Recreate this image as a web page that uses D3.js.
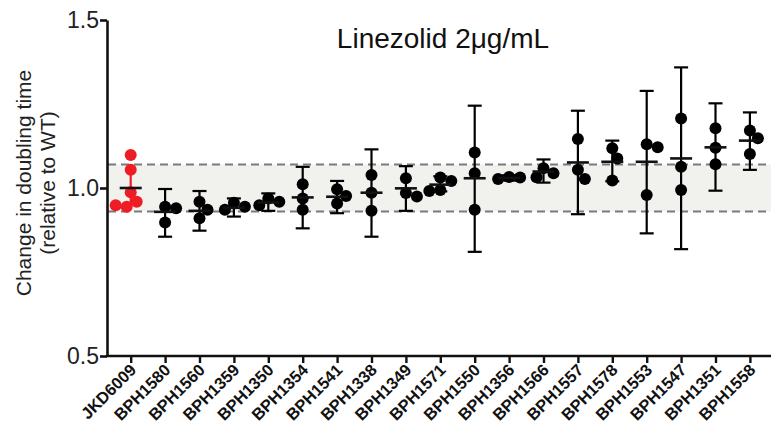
<!DOCTYPE html>
<html>
<head>
<meta charset="utf-8">
<script src="https://cdn.jsdelivr.net/npm/d3@7"></script>
<style>
  body { margin: 0; background: #fff; }
  text { font-family: "Liberation Sans", Arial, sans-serif; }
</style>
</head>
<body>
<div id="chart"></div>
<script>
// strains along the x axis
const categories = ['JKD6009', 'BPH1580', 'BPH1560', 'BPH1359', 'BPH1350', 'BPH1354',
  'BPH1541', 'BPH1338', 'BPH1349', 'BPH1571', 'BPH1550', 'BPH1356', 'BPH1566',
  'BPH1557', 'BPH1578', 'BPH1553', 'BPH1547', 'BPH1351', 'BPH1558'];

// individual replicates (relative doubling time)
const replicates = [
  [1.098, 1.054, 0.987, 0.959, 0.944, 0.949],
  [0.944, 0.940, 0.897],
  [0.959, 0.935, 0.910],
  [0.956, 0.944, 0.935],
  [0.969, 0.959, 0.949],
  [1.011, 0.969, 0.935],
  [0.996, 0.976, 0.954],
  [1.039, 0.986, 0.932],
  [1.029, 0.985, 0.975],
  [1.031, 1.021, 0.994, 0.991],
  [1.106, 1.044, 0.935],
  [1.033, 1.031, 1.027],
  [1.059, 1.044, 1.032],
  [1.146, 1.054, 1.027],
  [1.118, 1.088, 1.022],
  [1.130, 1.121, 0.979],
  [1.207, 1.063, 0.994],
  [1.178, 1.120, 1.071],
  [1.171, 1.148, 1.101]
];

// mean and 95% CI limits
const means = [1.000, 0.929, 0.932, 0.941, 0.957, 0.972, 0.974, 0.986, 0.999, 1.010,
  1.029, 1.030, 1.049, 1.076, 1.078, 1.078, 1.088, 1.121, 1.141];
const ciLow = [0.945, 0.855, 0.873, 0.915, 0.932, 0.880, 0.925, 0.855, 0.932, 0.990,
  0.810, 1.022, 1.016, 0.922, 1.020, 0.865, 0.818, 0.992, 1.054];
const ciHigh = [1.055, 0.997, 0.991, 0.969, 0.984, 1.063, 1.021, 1.115, 1.065, 1.035,
  1.245, 1.038, 1.085, 1.230, 1.141, 1.289, 1.359, 1.252, 1.225];

// wild-type range band
const bandLimits = [0.93, 1.07];
const yTicks = [0.5, 1.0, 1.5];

const width = 771;
const height = 423;
const axisX = 107;
const axisY = 356;
const r = 6;

const svg = d3.select('#chart').append('svg')
  .attr('width', width)
  .attr('height', height);

const x = d3.scalePoint()
  .domain(categories)
  .range([113.5, 767.1])
  .padding(0.5);

const y = d3.scaleLinear()
  .domain([0.5, 1.5])
  .range([axisY, 20]);

// shaded band + dashed limits
svg.append('rect')
  .attr('x', axisX + 1)
  .attr('y', y(bandLimits[1]))
  .attr('width', width - axisX)
  .attr('height', y(bandLimits[0]) - y(bandLimits[1]))
  .attr('fill', '#f1f1ee');

svg.selectAll('.limit')
  .data(bandLimits)
  .enter().append('line')
  .attr('class', 'limit')
  .attr('x1', axisX + 1)
  .attr('x2', width)
  .attr('y1', d => y(d))
  .attr('y2', d => y(d))
  .attr('stroke', '#7a7a7a')
  .attr('stroke-width', 2)
  .attr('stroke-dasharray', '8,5');

// groups
const groups = categories.map((c, i) => ({
  name: c, i, vals: replicates[i], mean: means[i], lo: ciLow[i], hi: ciHigh[i],
  color: i === 0 ? '#ee1c25' : '#000'
}));

// error bars
const err = svg.append('g');
groups.forEach(g => {
  const cx = x(g.name);
  err.append('line')
    .attr('x1', cx).attr('x2', cx)
    .attr('y1', y(g.lo)).attr('y2', y(g.hi))
    .attr('stroke', g.color).attr('stroke-width', 2.2);
  if (g.i > 0) {
    [g.lo, g.hi].forEach(v => {
      err.append('line')
        .attr('x1', cx - 7).attr('x2', cx + 7)
        .attr('y1', y(v)).attr('y2', y(v))
        .attr('stroke', g.color).attr('stroke-width', 2.2);
    });
  }
});

// simple swarm so overlapping dots spread sideways (some overlap allowed)
function swarm(vals) {
  const placed = [];
  const minDist = 11;
  return vals.map(v => {
    const py = y(v);
    let off = 0;
    for (let k = 0; k < 60; k++) {
      const cand = k === 0 ? 0 : (k % 2 ? 1 : -1) * Math.ceil(k / 2);
      const hit = placed.some(p => Math.hypot(cand - p.off, py - p.py) < minDist);
      if (!hit) { off = cand; break; }
    }
    placed.push({ off, py });
    return { v, off };
  });
}

const dots = svg.append('g');
groups.forEach(g => {
  dots.selectAll(null)
    .data(swarm(g.vals))
    .enter().append('circle')
    .attr('cx', d => x(g.name) + d.off)
    .attr('cy', d => y(d.v))
    .attr('r', r)
    .attr('fill', g.color);
});

// mean lines
svg.append('g').selectAll('line')
  .data(groups)
  .enter().append('line')
  .attr('x1', d => x(d.name) - 11)
  .attr('x2', d => x(d.name) + 11)
  .attr('y1', d => y(d.mean))
  .attr('y2', d => y(d.mean))
  .attr('stroke', '#111')
  .attr('stroke-width', 2.6);

// y axis
const yAxis = svg.append('g')
  .attr('transform', `translate(${axisX},0)`)
  .call(d3.axisLeft(y).tickValues(yTicks).tickFormat(d3.format('.1f')).tickSize(7).tickSizeOuter(0));
yAxis.select('.domain').attr('stroke', '#111').attr('stroke-width', 2.6);
yAxis.selectAll('.tick line').attr('stroke', '#111').attr('stroke-width', 2.6);
yAxis.selectAll('.tick text')
  .attr('x', -8)
  .attr('fill', '#222')
  .style('font-size', '23px')
  .style('font-family', '"Liberation Sans", Arial, sans-serif');

// x axis
const xAxis = svg.append('g')
  .attr('transform', `translate(0,${axisY})`)
  .call(d3.axisBottom(x).tickSize(7).tickSizeOuter(0));
xAxis.select('.domain').remove();
xAxis.append('line')
  .attr('x1', axisX - 1).attr('x2', width)
  .attr('stroke', '#111').attr('stroke-width', 2.6);
xAxis.selectAll('.tick line').attr('stroke', '#111').attr('stroke-width', 2.4);
xAxis.selectAll('.tick text')
  .attr('y', 0).attr('dy', 0)
  .attr('transform', 'translate(6,15) rotate(-45)')
  .attr('text-anchor', 'end')
  .attr('fill', '#111')
  .style('font-size', '16.5px')
  .style('font-weight', 'bold')
  .style('font-family', '"Liberation Sans", Arial, sans-serif');

// title
svg.append('text')
  .attr('x', 443)
  .attr('y', 48)
  .attr('text-anchor', 'middle')
  .attr('fill', '#111')
  .style('font-size', '28px')
  .text('Linezolid 2μg/mL');

// y axis label
const yl = svg.append('text')
  .attr('transform', `translate(0,183) rotate(-90)`)
  .attr('text-anchor', 'middle')
  .attr('fill', '#222')
  .style('font-size', '21px');
yl.append('tspan').attr('x', 0).attr('y', 31).text('Change in doubling time');
yl.append('tspan').attr('x', 0).attr('y', 55).text('(relative to WT)');
</script>
</body>
</html>
